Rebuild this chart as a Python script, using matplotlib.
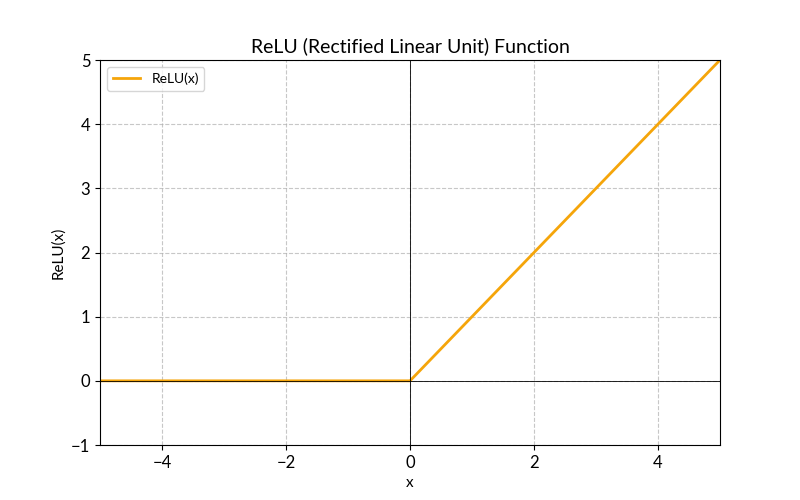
import matplotlib.pyplot as plt
import numpy as np

plt.rcParams['font.family'] = ['Lato', 'DejaVu Sans']

# data
x = np.array([-5.0, 0.0, 5.0])
relu = np.maximum(0, x)

fig, ax = plt.subplots(figsize=(8, 5), dpi=100)

ax.plot(x, relu, color='#F5A50A', linewidth=2, label='ReLU(x)')
ax.axhline(0, color='black', linewidth=0.6)
ax.axvline(0, color='black', linewidth=0.6)

ax.set_xlim(-5, 5)
ax.set_ylim(-1, 5)
ax.grid(True, linestyle='--', alpha=0.7)

ax.set_title('ReLU (Rectified Linear Unit) Function', fontsize=14)
ax.set_xlabel('x', fontsize=11)
ax.set_ylabel('ReLU(x)', fontsize=11)
ax.tick_params(labelsize=12)
ax.legend(loc='upper left')

fig.savefig('out.png')
